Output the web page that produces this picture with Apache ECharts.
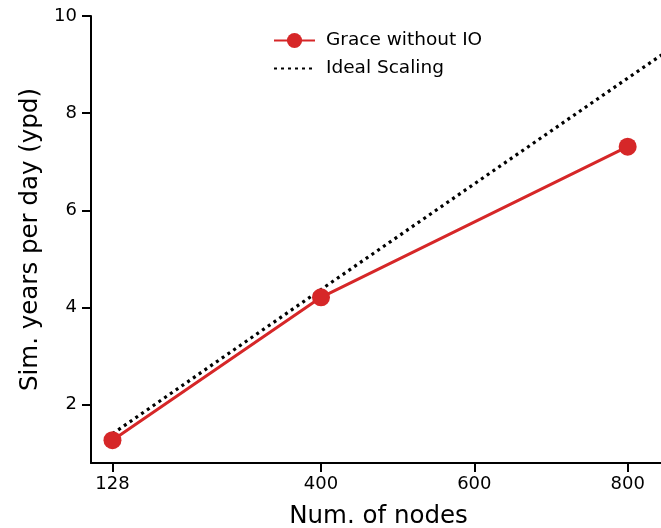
<!DOCTYPE html>
<html><head><meta charset="utf-8">
<script src="https://cdn.jsdelivr.net/npm/echarts@6/dist/echarts.min.js"></script>
<style>html,body{margin:0;padding:0;background:#fff}#c{width:661px;height:528px}</style>
</head><body><div id="c"></div>
<script>
const nodes = [128, 400, 800];
const graceYpd = [1.27, 4.21, 7.31];
const idealNodes = [128, 400, 800, 900];
const idealYpd = [1.4, 4.37, 8.72, 9.8];
const xTicks = [128, 400, 600, 800];
const yTicks = [2, 4, 6, 8, 10];

const chart = echarts.init(document.getElementById('c'));
const font = 'DejaVu Sans';
chart.setOption({
  animation: false,
  grid: { left: 91, top: 16, width: 575, bottom: 65, containLabel: false, outerBoundsMode: 'none' },
  legend: {
    orient: 'vertical', left: 268, top: 26, itemWidth: 41, itemHeight: 19, itemGap: 9,
    textStyle: { fontFamily: font, fontSize: 18.5, color: '#000', padding: [0, 0, 0, 6] },
    data: [{ name: 'Grace without IO' }, { name: 'Ideal Scaling', itemStyle: { opacity: 0 } }]
  },
  xAxis: {
    type: 'value', min: 100, max: 850,
    name: 'Num. of nodes', nameLocation: 'middle', nameGap: 41,
    nameTextStyle: { fontFamily: font, fontSize: 24.5, color: '#000' },
    splitLine: { show: false },
    axisLine: { lineStyle: { color: '#000', width: 2 } },
    axisTick: { show: true, length: 9, lineStyle: { color: '#000', width: 2 }, customValues: xTicks },
    axisLabel: { fontFamily: font, fontSize: 18, color: '#000', margin: 12, customValues: xTicks }
  },
  yAxis: {
    type: 'value', min: 0.8, max: 10,
    name: 'Sim. years per day (ypd)', nameLocation: 'middle', nameGap: 48,
    nameTextStyle: { fontFamily: font, fontSize: 24.5, color: '#000' },
    splitLine: { show: false },
    axisLine: { show: true, lineStyle: { color: '#000', width: 2 } },
    axisTick: { show: true, length: 9, lineStyle: { color: '#000', width: 2 }, customValues: yTicks },
    axisLabel: { fontFamily: font, fontSize: 18, color: '#000', margin: 14, customValues: yTicks }
  },
  series: [
    {
      name: 'Grace without IO', type: 'line',
      data: nodes.map((n, i) => [n, graceYpd[i]]),
      symbol: 'circle', symbolSize: 18, z: 3,
      lineStyle: { color: '#d62728', width: 3 },
      itemStyle: { color: '#d62728' }
    },
    {
      name: 'Ideal Scaling', type: 'line',
      data: idealNodes.map((n, i) => [n, idealYpd[i]]),
      symbol: 'none', z: 2,
      lineStyle: { color: '#000', width: 3.2, type: [3, 4] },
      itemStyle: { color: '#000' }
    }
  ]
});
</script></body></html>
